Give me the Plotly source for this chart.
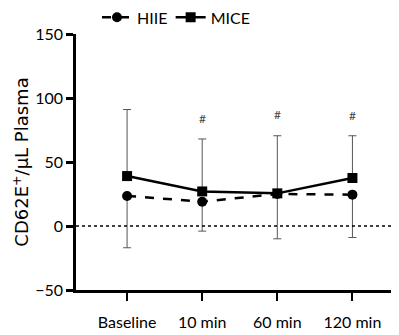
import plotly.graph_objects as go

categories = ["Baseline", "10 min", "60 min", "120 min"]
hiie_mean = [23.5, 19, 25, 24.5]
hiie_err_minus = [40.5, 23, 35, 33.5]
mice_mean = [39, 27, 25.5, 37.5]
mice_err_plus = [52, 41, 45, 33]
hash_y = [None, 84, 87.5, 86]

xpos = list(range(len(categories)))
font_family = "Lato, 'Open Sans', sans-serif"

fig = go.Figure()

fig.add_trace(go.Scatter(
    x=xpos, y=mice_mean, name="MICE", mode="lines+markers", legend="legend2",
    line=dict(color="black", width=2.5),
    marker=dict(symbol="square", size=10, color="black"),
    error_y=dict(type="data", symmetric=False, array=mice_err_plus,
                 arrayminus=[0] * 4, color="#555555", thickness=1, width=4),
))
fig.add_trace(go.Scatter(
    x=xpos, y=hiie_mean, name="HIIE", mode="lines+markers", legend="legend",
    line=dict(color="black", width=2.5, dash="dash"),
    marker=dict(symbol="circle", size=10, color="black"),
    error_y=dict(type="data", symmetric=False, array=[0] * 4,
                 arrayminus=hiie_err_minus, color="#555555", thickness=1, width=4),
))

# zero reference line
fig.add_shape(type="line", xref="paper", yref="y", x0=0, x1=1, y0=0, y1=0,
              line=dict(color="black", width=1.5, dash="dot"))

for xi, yv in zip(xpos, hash_y):
    if yv is not None:
        fig.add_annotation(x=xi, y=yv, text="#", showarrow=False,
                           font=dict(size=12, color="#444444", family=font_family))

legend_common = dict(orientation="h", xanchor="left", y=1.065, yanchor="middle",
                     font=dict(size=16), itemwidth=30, bgcolor="rgba(0,0,0,0)")

fig.update_layout(
    width=391, height=327,
    margin=dict(l=68, r=0, t=26, b=45, autoexpand=False),
    paper_bgcolor="white", plot_bgcolor="white",
    font=dict(family=font_family, size=16, color="black"),
    showlegend=True,
    legend=dict(x=0.065, **legend_common),
    legend2=dict(x=0.293, **legend_common),
    xaxis=dict(range=[-0.68, 3.62], tickvals=xpos, ticktext=categories,
               showline=True, linecolor="black", linewidth=2.5,
               ticks="outside", ticklen=8, tickwidth=1.5, tickcolor="black",
               ticklabelstandoff=8,
               showgrid=False, zeroline=False, tickfont=dict(size=16)),
    yaxis=dict(range=[-50, 150], tickvals=[-50, 0, 50, 100, 150],
               showline=True, linecolor="black", linewidth=2.5,
               ticks="outside", ticklen=7, tickwidth=2.5, tickcolor="black",
               showgrid=False, zeroline=False, tickfont=dict(size=16),
               title=dict(text="CD62E<sup>+</sup>/μL Plasma",
                          font=dict(size=18, family="'DejaVu Sans', sans-serif"),
                          standoff=2)),
)

fig.write_html("out.html")
